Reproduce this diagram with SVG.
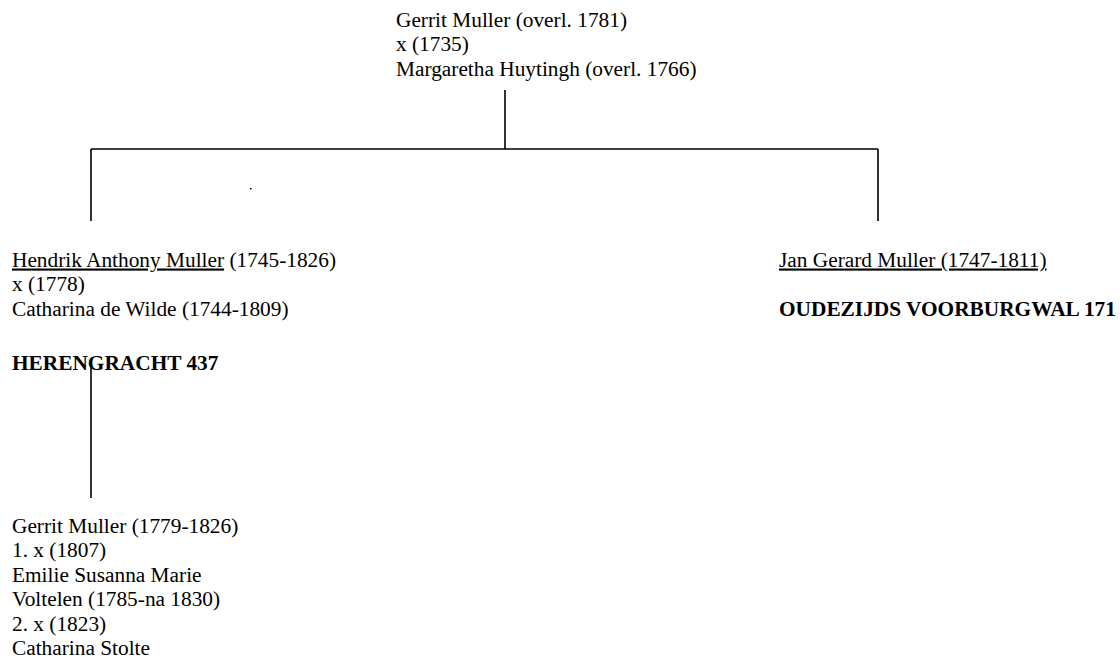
<svg xmlns="http://www.w3.org/2000/svg" width="1120" height="667" viewBox="0 0 1120 667">
<style>
text{font-family:"Liberation Serif","Times New Roman",serif;font-size:21.33px;fill:#000}
.b{font-weight:bold}
.u{text-decoration:underline}
.c{stroke:#000;stroke-width:1.6;fill:none}
</style>
<rect width="1120" height="667" fill="#fff"/>
<g id="connectors">
<path class="c" d="M505 90V149M91 149H878M91 149V221M878 149V221M91 366V498"/>
<rect x="250" y="188" width="1.5" height="1.5" fill="#000"/>
</g>
<g id="node-gerrit-sr">
<text x="396" y="26.5">Gerrit Muller (overl. 1781)</text>
<text x="396" y="51">x (1735)</text>
<text x="396" y="75.5">Margaretha Huytingh (overl. 1766)</text>
</g>
<g id="node-hendrik">
<text x="12" y="266.5"><tspan class="u">Hendrik Anthony Muller</tspan> (1745-1826)</text>
<text x="12" y="291">x (1778)</text>
<text x="12" y="315.5">Catharina de Wilde (1744-1809)</text>
<text class="b" x="12" y="370">HERENGRACHT 437</text>
</g>
<g id="node-jan">
<text x="779" y="266.5"><tspan class="u">Jan Gerard Muller (1747-1811)</tspan></text>
<text class="b" x="779" y="315.5">OUDEZIJDS VOORBURGWAL 171</text>
</g>
<g id="node-gerrit-jr">
<text x="12" y="532.5">Gerrit Muller (1779-1826)</text>
<text x="12" y="557">1. x (1807)</text>
<text x="12" y="581.5">Emilie Susanna Marie</text>
<text x="12" y="606">Voltelen (1785-na 1830)</text>
<text x="12" y="630.5">2. x (1823)</text>
<text x="12" y="655">Catharina Stolte</text>
</g>
</svg>
